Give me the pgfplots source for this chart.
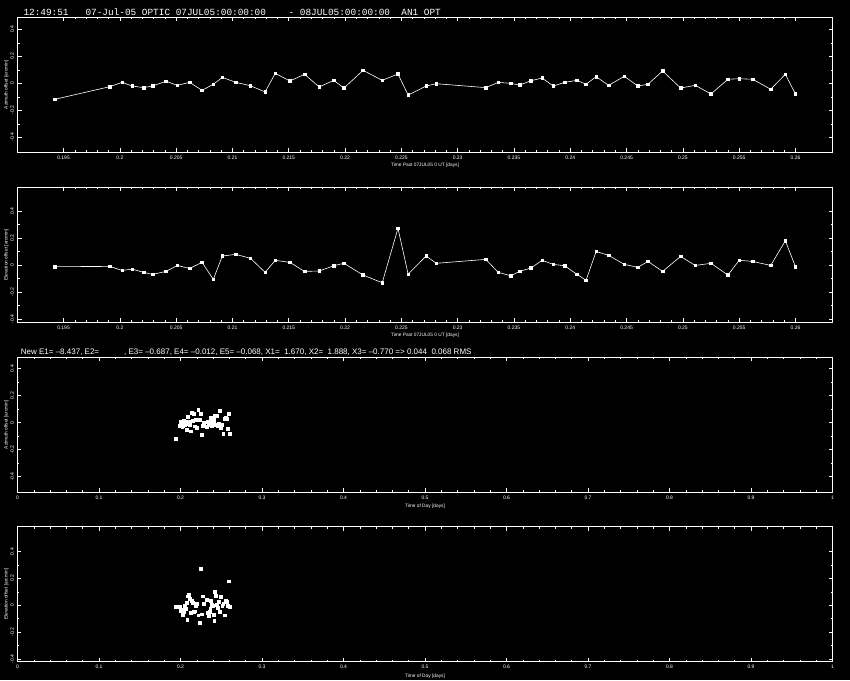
\documentclass[border=0pt]{standalone}
\usepackage{fontspec}
\setmainfont{Liberation Sans}
\setmonofont{Liberation Mono}
\usepackage{pgfplots}
\pgfplotsset{compat=1.18}
\usepackage{pgfplotstable}

\pgfplotstableread{
t az el
0.1942 -0.119 -0.012
0.1991 -0.025 -0.010
0.2002 0.007 -0.040
0.2011 -0.020 -0.030
0.2021 -0.032 -0.054
0.2029 -0.020 -0.069
0.2041 0.015 -0.047
0.2051 -0.015 -0.003
0.2062 0.007 -0.025
0.2073 -0.052 0.020
0.2083 -0.007 -0.106
0.2091 0.044 0.067
0.2103 0.007 0.079
0.2116 -0.018 0.050
0.2129 -0.064 -0.054
0.2138 0.074 0.035
0.2151 0.017 0.020
0.2164 0.067 -0.047
0.2177 -0.027 -0.044
0.2190 0.022 -0.005
0.2199 -0.035 0.013
0.2216 0.096 -0.074
0.2233 0.022 -0.131
0.2247 0.069 0.272
0.2256 -0.087 -0.067
0.2272 -0.020 0.067
0.2281 -0.003 0.013
0.2325 -0.032 0.042
0.2336 0.007 -0.054
0.2347 0.000 -0.079
0.2355 -0.013 -0.047
0.2365 0.019 -0.022
0.2375 0.039 0.035
0.2385 -0.020 0.005
0.2395 0.007 -0.005
0.2406 0.022 -0.069
0.2414 -0.007 -0.113
0.2423 0.049 0.101
0.2434 -0.015 0.072
0.2448 0.052 0.005
0.2460 -0.020 -0.017
0.2469 -0.007 0.027
0.2482 0.091 -0.047
0.2498 -0.035 0.064
0.2511 -0.015 -0.003
0.2525 -0.079 0.013
0.2540 0.030 -0.074
0.2550 0.034 0.035
0.2562 0.030 0.027
0.2578 -0.044 -0.003
0.2591 0.067 0.180
0.2600 -0.079 -0.012
}\data

\pgfplotsset{
  base/.style={
    scale only axis, width=815pt, height=135pt, anchor=south west,
    axis line style={white, line width=0.8pt},
    tick style={white, line width=0.6pt},
    major tick length=4pt, minor tick length=2pt,
    tick label style={font=\fontsize{5}{6}\selectfont, text=white},
    /pgf/number format/assume math mode=true,
    ytick={-0.4,-0.2,0,0.2,0.4}, minor y tick num=1,
    yticklabel style={rotate=90, anchor=south, /pgf/number format/fixed},
    every axis y label/.style={at={(axis description cs:-0.0135,0.5)}, rotate=90, anchor=center,
      font=\fontsize{4.8}{6}\selectfont, text=white},
  },
  top/.style={
    xmin=0.19091, xmax=0.26329,
    xtick={0.195,0.2,0.205,0.21,0.215,0.22,0.225,0.23,0.235,0.24,0.245,0.25,0.255,0.26},
    minor x tick num=4,
    xticklabel style={/pgf/number format/fixed, /pgf/number format/precision=3},
    xlabel={Time Past 07JUL05 0 UT [days]},
    every axis x label/.style={at={(axis description cs:0.5,-0.094)}, anchor=center,
      font=\fontsize{4.8}{6}\selectfont, text=white},
  },
  bot/.style={
    xmin=0, xmax=1,
    xtick={0,0.1,0.2,0.3,0.4,0.5,0.6,0.7,0.8,0.9,1},
    minor x tick num=4,
    xticklabel style={/pgf/number format/fixed},
    xlabel={Time of Day [days]},
    every axis x label/.style={at={(axis description cs:0.5,-0.107)}, anchor=center,
      font=\fontsize{4.8}{6}\selectfont, text=white},
  },
  lineplot/.style={white, line width=0.6pt, mark=square*, mark size=1.3pt, mark options={solid, fill=white, draw=white}},
  dotplot/.style={only marks, mark=square*, mark size=1.4pt, mark options={fill=white, draw=white}},
}

\begin{document}
\begin{tikzpicture}[x=1pt,y=1pt]
\useasboundingbox (0,0) rectangle (850,680);
\fill[black] (0,0) rectangle (850,680);

\node[anchor=west, text=white, inner sep=0, font=\fontsize{9.4}{10}\ttfamily] at (23.3,668)
  {12:49:51\ \ \ 07-Jul-05 OPTIC 07JUL05:00:00:00\ \ \ \ - 08JUL05:00:00:00\ \ AN1 OPT};

\node[anchor=west, text=white, inner sep=0, font=\fontsize{8}{9}\selectfont] at (20.7,328)
  {New E1= --8.437, E2=\hspace{25pt}, E3= --0.687, E4= --0.012, E5= --0.068, X1=\ \ 1.670, X2=\ \ 1.888, X3= --0.770 => 0.044\ \ 0.068 RMS};

\begin{axis}[base, top, at={(17.5pt,527.7pt)}, ymin=-0.511, ymax=0.489,
  ylabel={Azimuth offset [arcmin]}]
\addplot[lineplot] table[x=t,y=az]{\data};
\end{axis}

\begin{axis}[base, top, at={(17.5pt,357.7pt)}, ymin=-0.424, ymax=0.576,
  ylabel={Elevation offset [arcmin]}]
\addplot[lineplot] table[x=t,y=el]{\data};
\end{axis}

\begin{axis}[base, bot, at={(17.5pt,187.7pt)}, ymin=-0.516, ymax=0.484,
  ylabel={Azimuth offset [arcmin]}]
\addplot[dotplot] table[x=t,y=az]{\data};
\end{axis}

\begin{axis}[base, bot, at={(17.5pt,18.3pt)}, ymin=-0.42, ymax=0.585,
  ylabel={Elevation offset [arcmin]}]
\addplot[dotplot] table[x=t,y=el]{\data};
\end{axis}
\end{tikzpicture}
\end{document}
